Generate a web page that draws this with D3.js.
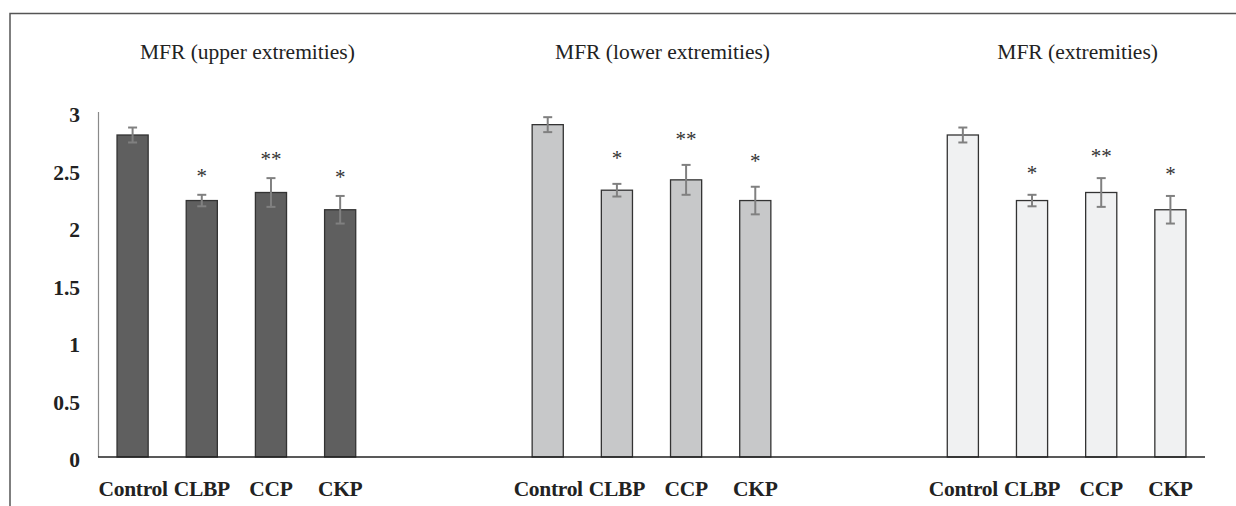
<!DOCTYPE html>
<html>
<head>
<meta charset="utf-8">
<script src="https://cdn.jsdelivr.net/npm/d3@7"></script>
<style>
  body { margin: 0; background: #fff; }
  svg { display: block; }
</style>
</head>
<body>
<script>
// Data
const groups = ['Control', 'CLBP', 'CCP', 'CKP'];
const panelTitles = ['MFR (upper extremities)', 'MFR (lower extremities)', 'MFR (extremities)'];
const upperMeans = [2.80, 2.23, 2.30, 2.15];
const upperErrs = [0.065, 0.05, 0.125, 0.12];
const lowerMeans = [2.89, 2.32, 2.41, 2.23];
const lowerErrs = [0.065, 0.055, 0.13, 0.12];
const allMeans = [2.80, 2.23, 2.30, 2.15];
const allErrs = [0.065, 0.05, 0.125, 0.12];
const stars = ['', '*', '**', '*'];
const yTicks = [0, 0.5, 1, 1.5, 2, 2.5, 3];

const fills = ['#5f5f5f', '#c7c8c9', '#f0f1f2'];
const starOffsets = [22, 29, 25];
const serif = '"Liberation Serif", "Times New Roman", Tinos, "DejaVu Serif", serif';

const width = 1236, height = 506;
const svg = d3.select('body').append('svg')
    .attr('width', width)
    .attr('height', height)
    .style('font-family', serif);

// frame (top and left edges only visible)
svg.append('path')
    .attr('d', 'M10,506 V13.5 H1236')
    .attr('fill', 'none')
    .attr('stroke', '#555')
    .attr('stroke-width', 1.5);

const panels = [
    { title: panelTitles[0], means: upperMeans, errs: upperErrs },
    { title: panelTitles[1], means: lowerMeans, errs: lowerErrs },
    { title: panelTitles[2], means: allMeans, errs: allErrs }
];

// one long category axis: 4 bars + 2 empty slots per panel
const slots = [];
panels.forEach((p, pi) => {
    groups.forEach((g, gi) => slots.push({ key: pi + '-' + g, label: g, panel: pi, gi: gi,
        value: p.means[gi], err: p.errs[gi], star: stars[gi] }));
    if (pi < panels.length - 1) {
        slots.push({ key: pi + '-e1', empty: true });
        slots.push({ key: pi + '-e2', empty: true });
    }
});

const x = d3.scaleBand()
    .domain(slots.map(d => d.key))
    .range([98, 1205])
    .paddingInner(0.55)
    .paddingOuter(0.275);

const y = d3.scaleLinear()
    .domain([0, 3])
    .range([457, 112]);

// y axis
svg.append('line')
    .attr('x1', 98.5).attr('x2', 98.5)
    .attr('y1', y(3)).attr('y2', y(0))
    .attr('stroke', '#8a8a8a')
    .attr('stroke-width', 1.2);

svg.selectAll('.ytick').data(yTicks).enter().append('text')
    .attr('class', 'ytick')
    .attr('x', 80)
    .attr('y', d => y(d) + 10)
    .attr('text-anchor', 'end')
    .attr('font-size', 21.5)
    .attr('font-weight', 'bold')
    .attr('fill', '#222')
    .text(d => d);

const bars = slots.filter(d => !d.empty);

svg.selectAll('rect.bar').data(bars).enter().append('rect')
    .attr('class', 'bar')
    .attr('x', d => x(d.key))
    .attr('width', x.bandwidth())
    .attr('y', d => y(d.value))
    .attr('height', d => y(0) - y(d.value))
    .attr('fill', d => fills[d.panel])
    .attr('stroke', '#333')
    .attr('stroke-width', 1.3);

// x axis
svg.append('line')
    .attr('x1', 98).attr('x2', 1205)
    .attr('y1', y(0)).attr('y2', y(0))
    .attr('stroke', '#222')
    .attr('stroke-width', 1.5);

// error bars
const eb = svg.selectAll('g.err').data(bars).enter().append('g')
    .attr('class', 'err')
    .attr('stroke', '#808080')
    .attr('stroke-width', 2);
const cx = d => x(d.key) + x.bandwidth() / 2;
eb.append('line')
    .attr('x1', cx).attr('x2', cx)
    .attr('y1', d => y(d.value + d.err)).attr('y2', d => y(d.value - d.err));
eb.append('line')
    .attr('x1', d => cx(d) - 4.5).attr('x2', d => cx(d) + 4.5)
    .attr('y1', d => y(d.value + d.err)).attr('y2', d => y(d.value + d.err));
eb.append('line')
    .attr('x1', d => cx(d) - 4.5).attr('x2', d => cx(d) + 4.5)
    .attr('y1', d => y(d.value - d.err)).attr('y2', d => y(d.value - d.err));

// significance stars
svg.selectAll('text.star').data(bars.filter(d => d.star)).enter().append('text')
    .attr('class', 'star')
    .attr('x', cx)
    .attr('y', d => y(d.value + d.err) - starOffsets[d.panel] + 10)
    .attr('text-anchor', 'middle')
    .attr('font-size', 21)
    .attr('fill', '#333')
    .text(d => d.star);

// category labels
svg.selectAll('text.xlab').data(bars).enter().append('text')
    .attr('class', 'xlab')
    .attr('x', d => cx(d) + (d.gi === 0 ? 0.5 : 0))
    .attr('y', 496)
    .attr('text-anchor', 'middle')
    .attr('font-size', 21.5)
    .attr('font-weight', 'bold')
    .attr('letter-spacing', -0.3)
    .attr('fill', '#222')
    .text(d => d.label);

// panel titles
panels.forEach((p, pi) => {
    const first = x(pi + '-' + groups[0]);
    const last = x(pi + '-' + groups[groups.length - 1]) + x.bandwidth();
    svg.append('text')
        .attr('x', (first + last) / 2 + 11)
        .attr('y', 59)
        .attr('text-anchor', 'middle')
        .attr('font-size', 21.5)
        .attr('fill', '#222')
        .text(p.title);
});
</script>
</body>
</html>
